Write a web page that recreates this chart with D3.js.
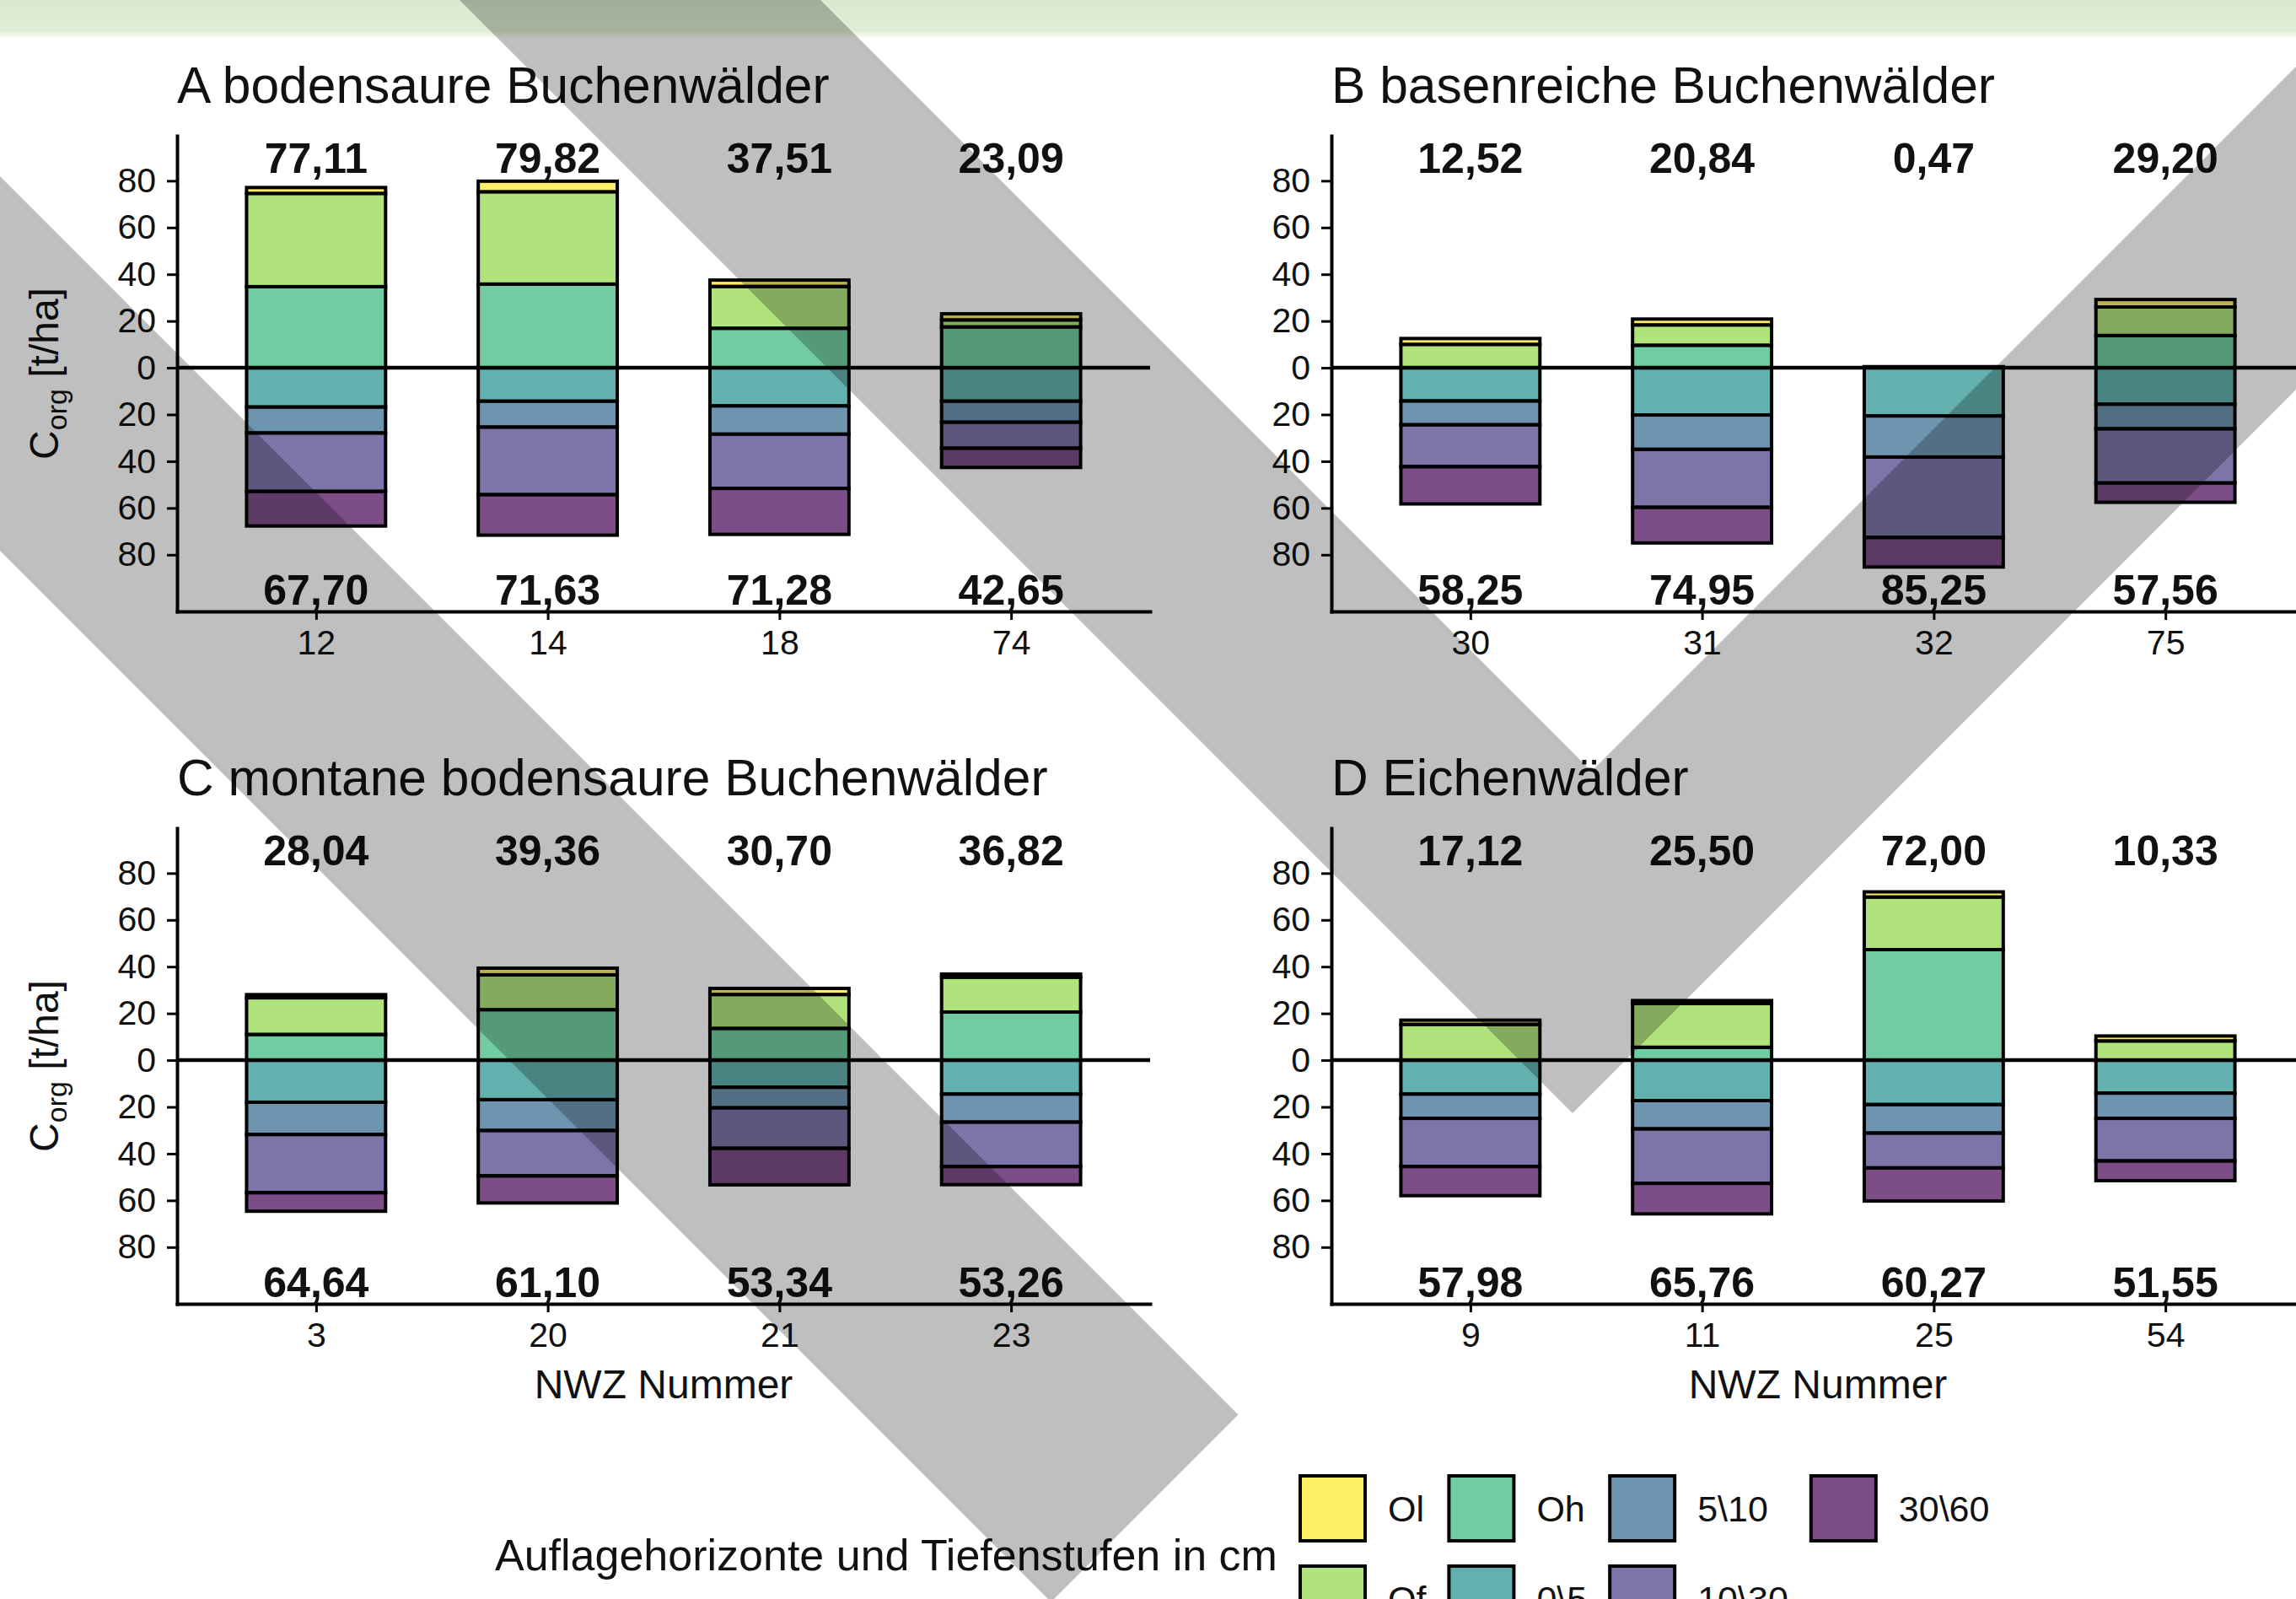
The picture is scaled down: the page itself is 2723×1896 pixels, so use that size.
<!DOCTYPE html>
<html>
<head>
<meta charset="utf-8">
<script src="https://cdn.jsdelivr.net/npm/d3@7"></script>
<style>
  body { margin: 0; background: #fff; }
</style>
</head>
<body>
<svg id="chart"></svg>
<script>
// horizons, top of the stack first
var horizons = ["Ol", "Of", "Oh", "0\\5", "5\\10", "10\\30", "30\\60"];

var panelTitles = [
  "A bodensaure Buchenwälder",
  "B basenreiche Buchenwälder",
  "C montane bodensaure Buchenwälder",
  "D Eichenwälder"
];
var plotIds = [
  ["12", "14", "18", "74"],
  ["30", "31", "32", "75"],
  ["3", "20", "21", "23"],
  ["9", "11", "25", "54"]
];

// printed sums above and below the zero line
var totalUp = [
  [77.11, 79.82, 37.51, 23.09],
  [12.52, 20.84, 0.47, 29.2],
  [28.04, 39.36, 30.7, 36.82],
  [17.12, 25.5, 72.0, 10.33]
];
var totalDown = [
  [67.7, 71.63, 71.28, 42.65],
  [58.25, 74.95, 85.25, 57.56],
  [64.64, 61.1, 53.34, 53.26],
  [57.98, 65.76, 60.27, 51.55]
];

// organic layers (t/ha), stacked upward
var olVals = [[2.51, 4.52, 2.71, 2.6], [2.5, 2.5, 0.1, 3.2], [1.34, 2.86, 2.6, 1.32], [1.8, 1.2, 2.2, 2.1]];
var ofVals = [[39.9, 39.5, 17.9, 3.0], [10.02, 8.7, 0.37, 12.2], [15.7, 14.9, 14.5, 14.9], [15.32, 18.8, 22.5, 8.23]];
var ohVals = [[34.7, 35.8, 16.9, 17.49], [0, 9.64, 0, 13.8], [11.0, 21.6, 13.6, 20.6], [0, 5.5, 47.3, 0]];

// mineral soil depth steps (t/ha), stacked downward
var d05 = [[16.8, 14.3, 16.3, 14.3], [14.2, 20.2, 20.6, 15.6], [18.0, 16.9, 11.6, 14.5], [14.5, 17.3, 19.0, 14.1]];
var d510 = [[11.1, 11.1, 12.1, 9.0], [10.2, 14.7, 17.6, 10.5], [13.8, 13.2, 8.8, 12.0], [10.4, 12.1, 12.2, 10.8]];
var d1030 = [[25.0, 28.9, 23.2, 11.1], [17.9, 24.8, 34.4, 23.2], [24.9, 19.4, 17.3, 19.0], [20.6, 23.3, 14.9, 18.2]];
var d3060 = [[14.8, 17.33, 19.68, 8.25], [15.95, 15.25, 12.65, 8.26], [7.94, 11.6, 15.64, 7.76], [12.48, 13.06, 14.17, 8.45]];

var yTicks = [-80, -60, -40, -20, 0, 20, 40, 60, 80];

var width = 2723,
  height = 1896;
var colors = ["#FDE725", "#8FD744", "#35B779", "#21908C", "#31688E", "#443A83", "#440154"];
var font = "'Liberation Sans', Arial, Helvetica, sans-serif";

var svg = d3.select("#chart").attr("width", width).attr("height", height);
svg.append("rect").attr("width", width).attr("height", height).attr("fill", "#fff");

// pale green band along the top edge
var grad = svg.append("defs").append("linearGradient")
  .attr("id", "topband").attr("x1", 0).attr("y1", 0).attr("x2", 0).attr("y2", 1);
grad.append("stop").attr("offset", "0%").attr("stop-color", "#d9e9cf");
grad.append("stop").attr("offset", "80%").attr("stop-color", "#e0edd6");
grad.append("stop").attr("offset", "100%").attr("stop-color", "#ffffff");
svg.append("rect").attr("x", 0).attr("y", 0).attr("width", width).attr("height", 46)
  .attr("fill", "url(#topband)");

function addText(sel, x, y, str, size, anchor, weight) {
  return sel.append("text")
    .attr("x", x)
    .attr("y", y)
    .attr("text-anchor", anchor || "start")
    .attr("font-family", font)
    .attr("font-size", size)
    .attr("font-weight", weight || "normal")
    .attr("fill", "#111")
    .text(str);
}

var fmt = function (v) {
  return v.toFixed(2).replace(".", ",");
};

var x0 = 210,
  plotW = 1154,
  colShift = 1369,
  rowShift = 821;

var y = d3.scaleLinear().domain([-104.25, 99.25]).range([725, 161]);

panelTitles.forEach(function (title, p) {
  var col = p % 2,
    row = Math.floor(p / 2);
  var g = svg.append("g")
    .attr("transform", "translate(" + col * colShift + "," + row * rowShift + ")");

  var xs = d3.scalePoint().domain(plotIds[p]).range([x0, x0 + plotW]).padding(0.6);
  var bw = xs.step() * 0.6;

  // build stacked segments
  var segs = [];
  plotIds[p].forEach(function (id, i) {
    var ups = [ohVals[p][i], ofVals[p][i], olVals[p][i]];
    var upIdx = [2, 1, 0];
    var base = 0;
    ups.forEach(function (v, k) {
      if (v > 0) segs.push({ id: id, h: upIdx[k], y0: base, y1: base + v });
      base += v;
    });
    var downs = [d05[p][i], d510[p][i], d1030[p][i], d3060[p][i]];
    base = 0;
    downs.forEach(function (v, k) {
      segs.push({ id: id, h: 3 + k, y0: base, y1: base - v });
      base -= v;
    });
  });

  g.selectAll("rect.seg")
    .data(segs)
    .enter()
    .append("rect")
    .attr("class", "seg")
    .attr("x", function (d) { return xs(d.id) - bw / 2; })
    .attr("width", bw)
    .attr("y", function (d) { return y(Math.max(d.y0, d.y1)); })
    .attr("height", function (d) { return Math.abs(y(d.y0) - y(d.y1)); })
    .attr("fill", function (d) { return colors[d.h]; })
    .attr("fill-opacity", 0.7)
    .attr("stroke", "#000")
    .attr("stroke-width", 4);

  // zero line
  g.append("line")
    .attr("x1", x0).attr("x2", x0 + plotW)
    .attr("y1", y(0)).attr("y2", y(0))
    .attr("stroke", "#000").attr("stroke-width", 4.5);

  // axes
  var yAxis = d3.axisLeft(y).tickValues(yTicks)
    .tickFormat(function (d) { return Math.abs(d); })
    .tickSize(12).tickSizeOuter(0).tickPadding(13);
  var ga = g.append("g").attr("transform", "translate(" + x0 + ",0)").call(yAxis);
  ga.select(".domain").attr("stroke-width", 4).attr("stroke-linecap", "square");
  ga.selectAll(".tick line").attr("stroke-width", 3);
  ga.selectAll(".tick text")
    .attr("font-size", 41).attr("font-family", font).attr("fill", "#111");

  var xAxis = d3.axisBottom(xs).tickSize(10).tickSizeOuter(0).tickPadding(12);
  var gx = g.append("g").attr("transform", "translate(0," + y.range()[0] + ")").call(xAxis);
  gx.select(".domain").attr("stroke-width", 4).attr("stroke-linecap", "square");
  gx.selectAll(".tick line").attr("stroke-width", 3);
  gx.selectAll(".tick text")
    .attr("font-size", 41).attr("font-family", font).attr("fill", "#111");

  // sums
  g.selectAll("text.up")
    .data(plotIds[p])
    .enter()
    .append("text")
    .attr("class", "up")
    .attr("x", function (d) { return xs(d); })
    .attr("y", y(90))
    .attr("dy", "0.36em")
    .attr("text-anchor", "middle")
    .attr("font-family", font).attr("font-weight", "bold").attr("font-size", 50)
    .attr("fill", "#111")
    .text(function (d, i) { return fmt(totalUp[p][i]); });

  g.selectAll("text.down")
    .data(plotIds[p])
    .enter()
    .append("text")
    .attr("class", "down")
    .attr("x", function (d) { return xs(d); })
    .attr("y", y(-95))
    .attr("dy", "0.36em")
    .attr("text-anchor", "middle")
    .attr("font-family", font).attr("font-weight", "bold").attr("font-size", 50)
    .attr("fill", "#111")
    .text(function (d, i) { return fmt(totalDown[p][i]); });

  // titles
  addText(g, x0, 122, title, 60.5, "start");

  if (col === 0) {
    var yl = g.append("text")
      .attr("transform", "translate(69," + (y.range()[0] + y.range()[1]) / 2 + ") rotate(-90)")
      .attr("text-anchor", "middle")
      .attr("font-family", font).attr("font-size", 48).attr("fill", "#111");
    yl.append("tspan").text("C");
    yl.append("tspan").attr("font-size", 34).attr("dy", 10).text("org");
    yl.append("tspan").attr("dy", -10).text(" [t/ha]");
  }
  if (row === 1) {
    addText(g, x0 + plotW / 2, 1658 - rowShift, "NWZ Nummer", 48, "middle");
  }
});

// legend
var lg = svg.append("g");
addText(lg, 587, 1862, "Auflagehorizonte und Tiefenstufen in cm", 52, "start");
var keySize = 77,
  keyX = 1542,
  keyRows = [1750, 1857];
var nCols = Math.ceil(horizons.length / 2);
for (var c = 0; c < nCols; c++) {
  var maxW = 0;
  for (var r = 0; r < 2; r++) {
    var h = c * 2 + r;
    if (h >= horizons.length) continue;
    lg.append("rect")
      .attr("x", keyX).attr("y", keyRows[r])
      .attr("width", keySize).attr("height", keySize)
      .attr("fill", colors[h]).attr("fill-opacity", 0.7)
      .attr("stroke", "#000").attr("stroke-width", 4);
    var t = addText(lg, keyX + 104, keyRows[r] + keySize / 2, horizons[h], 43, "start")
      .attr("dy", "0.36em");
    maxW = Math.max(maxW, t.node().getComputedTextLength());
  }
  keyX += 104 + maxW + 27;
}

// grey diagonal bands laid over the figure
var bands = [
  [[545, 0], [973, 0], [1887.5, 914.5], [2802, 0], [3185, 0], [1865, 1320]],
  [[0, 209], [1468.5, 1677.5], [1246.5, 1899.5], [0, 653]]
];
svg.append("path")
  .attr("d", bands.map(function (b) { return "M" + b.join("L") + "Z"; }).join(""))
  .attr("fill", "#000")
  .attr("fill-opacity", 0.25);
</script>
</body>
</html>
